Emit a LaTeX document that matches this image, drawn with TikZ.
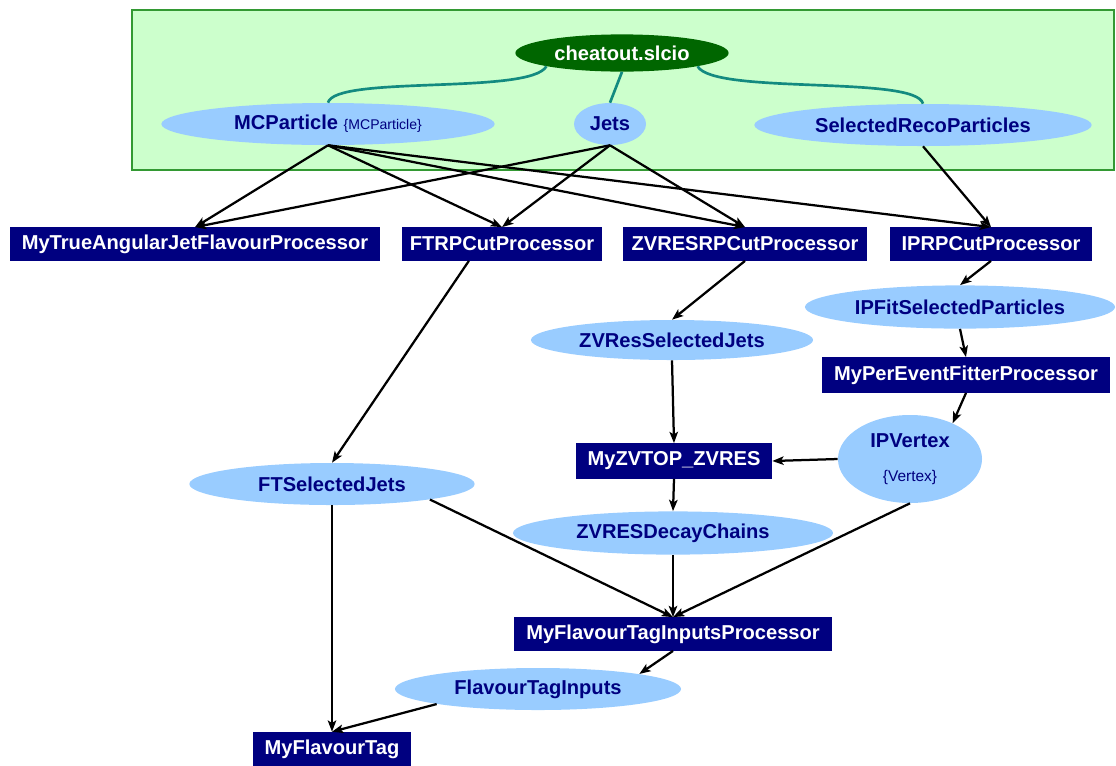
\documentclass[tikz,border=0pt]{standalone}
\usepackage{fontspec}
\setmainfont{Liberation Sans}
\usetikzlibrary{shapes.geometric,arrows.meta}
\definecolor{navy}{HTML}{000080}
\definecolor{skyfill}{HTML}{99CCFF}
\definecolor{paleg}{HTML}{CCFFCC}
\definecolor{darkg}{HTML}{006600}
\definecolor{frameg}{HTML}{339933}
\definecolor{tealc}{HTML}{138A80}
\tikzset{
    proc/.style={rectangle, fill=navy, text=white, inner sep=0pt,
    	minimum height=0.83cm, font=\fontsize{14.3}{16}\selectfont\bfseries}
}
\tikzset{
    coll/.style={ellipse, fill=skyfill, text=navy, inner sep=0pt,
    	minimum height=1.05cm, font=\fontsize{14.3}{16}\selectfont\bfseries}
}
\tikzset{
    link/.style={draw=tealc, line width=1.9pt}
}
\tikzset{
    every edge/.append style={line width=1.6pt,
    	-{Stealth[length=8pt,width=6pt,inset=1.8pt]}}
}

\begin{document}
\begin{tikzpicture}[x=0.025cm, y=-0.025cm]
  \useasboundingbox (0,0) rectangle (1116,765);
  \node (inbox) [rectangle, draw=frameg, fill=paleg, line width=1.6pt,
    minimum width=24.55cm, minimum height=4cm] at (623,90) {};

  \node (cheat) [ellipse, fill=darkg, text=white, inner sep=0pt,
    minimum width=5.33cm, minimum height=0.93cm,
    font=\fontsize{14.3}{16}\selectfont\bfseries] at (622,53) {cheatout.slcio};
  \node (mcp) [coll, minimum width=8.33cm] at (328,124)
    {MCParticle {\fontsize{10}{12}\selectfont\mdseries\{MCParticle\}}};
  \node (jets) [coll, minimum width=1.8cm] at (610,124) {Jets};
  \node (selreco) [coll, minimum width=8.43cm] at (923,125) {SelectedRecoParticles};

  \node (mytrue) [proc, minimum width=9.25cm] at (195,244) {MyTrueAngularJetFlavourProcessor};
  \node (ftrp) [proc, minimum width=5cm] at (502,244) {FTRPCutProcessor};
  \node (zvresrp) [proc, minimum width=6.08cm] at (745,244) {ZVRESRPCutProcessor};
  \node (iprp) [proc, minimum width=5.05cm] at (991,244) {IPRPCutProcessor};

  \node (ipfit) [coll, minimum width=7.75cm, minimum height=1.08cm] at (960,307) {IPFitSelectedParticles};
  \node (zvsj) [coll, minimum width=7.05cm, minimum height=1cm] at (672,340) {ZVResSelectedJets};
  \node (mypef) [proc, minimum width=7.18cm, minimum height=0.88cm] at (966,375) {MyPerEventFitterProcessor};
  \node (ipvtx) [coll, align=center, minimum width=3.6cm, minimum height=2.2cm] at (910,459)
    {IPVertex\\[8pt]{\fontsize{11}{13}\selectfont\mdseries\{Vertex\}}};
  \node (myzvtop) [proc, minimum width=4.9cm, minimum height=0.88cm] at (674,461) {MyZVTOP\_ZVRES};
  \node (ftsj) [coll, minimum width=7.13cm] at (332,484) {FTSelectedJets};
  \node (zvdc) [coll, minimum width=8cm, minimum height=1.08cm] at (673,533) {ZVRESDecayChains};
  \node (myftip) [proc, minimum width=7.93cm] at (673,634) {MyFlavourTagInputsProcessor};
  \node (ftin) [coll, minimum width=7.15cm] at (538,689) {FlavourTagInputs};
  \node (myft) [proc, minimum width=3.93cm, minimum height=0.85cm] at (332,749) {MyFlavourTag};

  \draw [link] (cheat.south west) .. controls (530,95) and (335,75) .. (mcp.north);
  \draw [link] (cheat.south) -- (jets.north);
  \draw [link] (cheat.south east) .. controls (714,95) and (916,75) .. (selreco.north);

  \draw (mcp.south) edge (mytrue.north);
  \draw (mcp.south) edge (ftrp.north);
  \draw (mcp.south) edge (zvresrp.north);
  \draw (mcp.south) edge (iprp.north);
  \draw (jets.south) edge (mytrue.north);
  \draw (jets.south) edge (ftrp.north);
  \draw (jets.south) edge (zvresrp.north);
  \draw (selreco.south) edge (iprp.north);

  \draw (ftrp.-153) edge (ftsj.north);
  \draw (zvresrp.south) edge (zvsj.north);
  \draw (iprp.south) edge (ipfit.north);
  \draw (ipfit.south) edge (mypef.north);
  \draw (mypef.south) edge (ipvtx.40);
  \draw (zvsj.south) edge (myzvtop.north);
  \draw (ipvtx.west) edge (myzvtop.east);
  \draw (myzvtop.south) edge (zvdc.north);
  \draw (zvdc.south) edge (myftip.north);
  \draw (ipvtx.south) edge (myftip.north);
  \draw (ftsj.-9) edge (myftip.north);
  \draw (ftsj.south) edge (myft.north);
  \draw (myftip.south) edge (ftin.north east);
  \draw (ftin.south west) edge (myft.north);
\end{tikzpicture}
\end{document}
